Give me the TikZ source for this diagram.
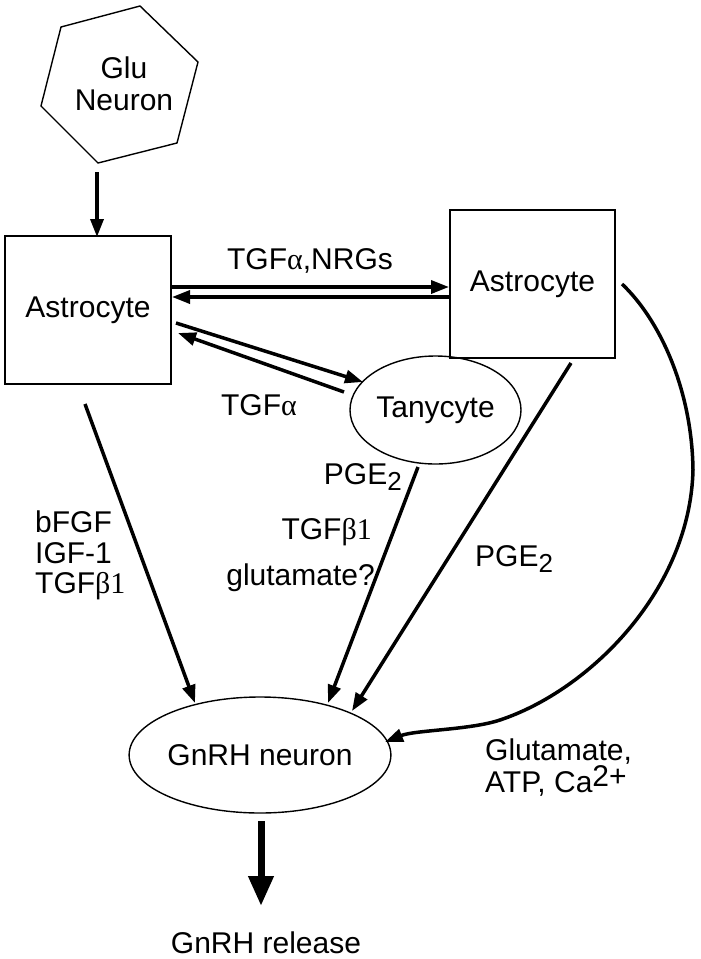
\documentclass[tikz,border=0pt]{standalone}
\usepackage{fontspec}
\setmainfont{Liberation Sans}
\newfontfamily\serifgr{Liberation Serif}
\usetikzlibrary{arrows.meta,shapes.geometric}
\newcommand\figfont{\fontsize{30}{32}\selectfont}
\begin{document}
\begin{tikzpicture}[x=1pt,y=-1pt,
  arr/.style={line width=3.5pt,-{Triangle[length=18pt,width=13pt]}},
  bigarr/.style={line width=7pt,-{Triangle[length=30pt,width=24pt]}},
  cellbox/.style={draw,line width=1.4pt,minimum width=166pt,minimum height=148pt,inner sep=0pt,font=\figfont},
  cellell/.style={draw,ellipse,line width=1.4pt,inner sep=0pt,font=\figfont},
  lbl/.style={font=\figfont,inner sep=0pt}]
\useasboundingbox (0,0) rectangle (701,959);

% Glu neuron (hexagon)
\draw[line width=1.4pt] (61,27) -- (140,6) -- (198,62) -- (177,143) -- (98,163) -- (41,106) -- cycle;
\node[lbl,align=center] (glu) at (124,84) {Glu\\Neuron};

% cells
\node[cellbox] (aL) at (88,310) {Astrocyte};
\node[cellbox,minimum width=165pt] (aR) at (532.5,284) {Astrocyte};
\node[cellell,minimum width=171pt,minimum height=108pt] (tan) at (435.5,410) {Tanycyte};
\node[cellell,minimum width=234pt,minimum height=116pt] (gnrh) at (260,755) {GnRH neuron};
\node[lbl,anchor=base] (rel) at (266,953) {GnRH release};

% connector end points
\coordinate (h1) at (97,172);
\coordinate (h2) at (97,237);
\coordinate (a1) at (171,287);
\coordinate (a2) at (449,287);
\coordinate (b1) at (449,297);
\coordinate (b2) at (172,297);
\coordinate (c1) at (176,323);
\coordinate (c2) at (363,382);
\coordinate (d1) at (344,392);
\coordinate (d2) at (178,333);
\coordinate (e1) at (85,404);
\coordinate (e2) at (195,703);
\coordinate (f1) at (418,467);
\coordinate (f2) at (328,703);
\coordinate (g1) at (571,363);
\coordinate (g2) at (352,711);
\coordinate (k0) at (622,284);
\coordinate (k1) at (693,470);
\coordinate (k2) at (500,720);
\coordinate (k3) at (385,742);
\coordinate (r1) at (261,821);
\coordinate (r2) at (261,906);

% connectors
\draw[arr] (h1) -- (h2);
\draw[arr] (a1) -- (a2);
\draw[arr] (b1) -- (b2);
\draw[arr] (c1) -- (c2);
\draw[arr] (d1) -- (d2);
\draw[arr] (e1) -- (e2);
\draw[arr] (f1) -- (f2);
\draw[arr] (g1) -- (g2);
\draw[arr] (k0) .. controls (660,320) and (692,390) .. (k1)
               .. controls (690,590) and (590,690) .. (k2)
               .. controls (470,730) and (415,730) .. (k3);
\draw[bigarr] (r1) -- (r2);

% labels
\node[lbl,anchor=base] (l1) at (310,269) {TGF{\serifgr α},NRGs};
\node[lbl,anchor=base] (l2) at (259,415) {TGF{\serifgr α}};
\node[lbl,anchor=base west] (l3) at (35,532) {bFGF};
\node[lbl,anchor=base west] (l4) at (35,563) {IGF-1};
\node[lbl,anchor=base west] (l5) at (35,593) {TGF{\serifgr β1}};
\node[lbl,anchor=base east] (l6) at (402,484) {PGE\raisebox{-6pt}{\fontsize{26}{26}\selectfont 2}};
\node[lbl,anchor=base east] (l7) at (372,539) {TGF{\serifgr β1}};
\node[lbl,anchor=base east] (l8) at (375,585) {glutamate?};
\node[lbl,anchor=base west] (l9) at (475,566) {PGE\raisebox{-6pt}{\fontsize{26}{26}\selectfont 2}};
\node[lbl,anchor=base west] (l10) at (485,760) {Glutamate,};
\node[lbl,anchor=base west] (l11) at (485,792) {ATP, Ca\raisebox{6pt}{2+}};
\end{tikzpicture}
\end{document}
